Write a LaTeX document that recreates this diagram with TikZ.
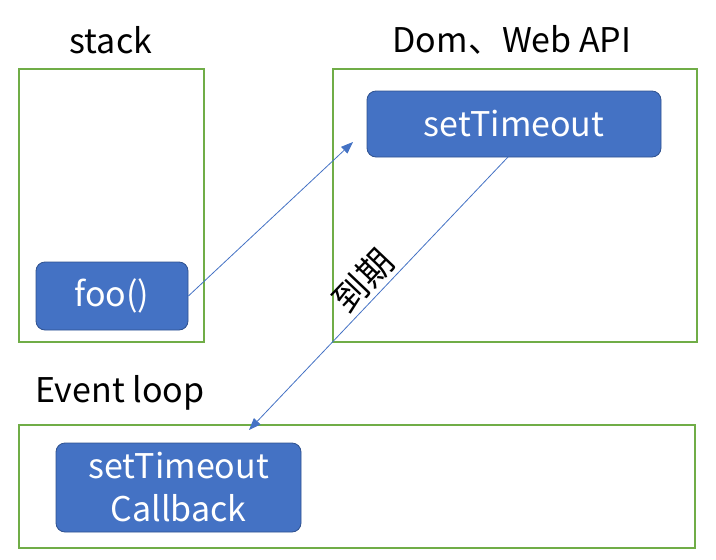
\documentclass[tikz,border=0pt]{standalone}
\usepackage{fontspec}
\setmainfont{Noto Sans CJK SC}
\usetikzlibrary{arrows.meta}
\definecolor{grn}{HTML}{70AD47}
\definecolor{blu}{HTML}{4472C4}
\definecolor{bdr}{HTML}{2F528F}
\tikzset{
  blk/.style={draw=bdr, fill=blu, rounded corners=9pt, text=white, font=\fontsize{34}{43}\selectfont, line width=0.8pt, align=center, inner sep=0pt},
  ttl/.style={font=\fontsize{34}{40}\selectfont, inner sep=0pt},
  conn/.style={draw=blu, line width=0.8pt, -{Triangle[length=12pt,width=9pt]}}
}
\begin{document}
\begin{tikzpicture}[x=1pt,y=-1pt]
\useasboundingbox (0,0) rectangle (716,560);
\draw[draw=grn, line width=1.5pt] (19,69) rectangle (204,342);
\draw[draw=grn, line width=1.5pt] (333,69) rectangle (697,342);
\draw[draw=grn, line width=1.5pt] (19,425) rectangle (695,548);
\node[ttl] (tstack) at (111,40) {stack};
\node[ttl] (tdom) at (512,40) {Dom、Web API};
\node[ttl, anchor=west] (tev) at (35,393) {Event loop};
\node[blk, minimum width=152pt, minimum height=68pt] (foo) at (112,296) {foo()};
\node[blk, minimum width=294pt, minimum height=66pt] (st) at (514,124) {setTimeout};
\node[blk, minimum width=245pt, minimum height=89pt] (cb) at (178.5,487.5) {setTimeout\\Callback};
\coordinate (e1) at (353,142);
\coordinate (s2) at (508,157);
\coordinate (e2) at (249,430);
\draw[conn] (foo.east) -- (e1);
\draw[conn] (s2) -- (e2);
\node[font=\fontsize{35}{40}\selectfont, inner sep=0pt, rotate=46.5] (due) at (363,281) {到期};
\end{tikzpicture}
\end{document}
